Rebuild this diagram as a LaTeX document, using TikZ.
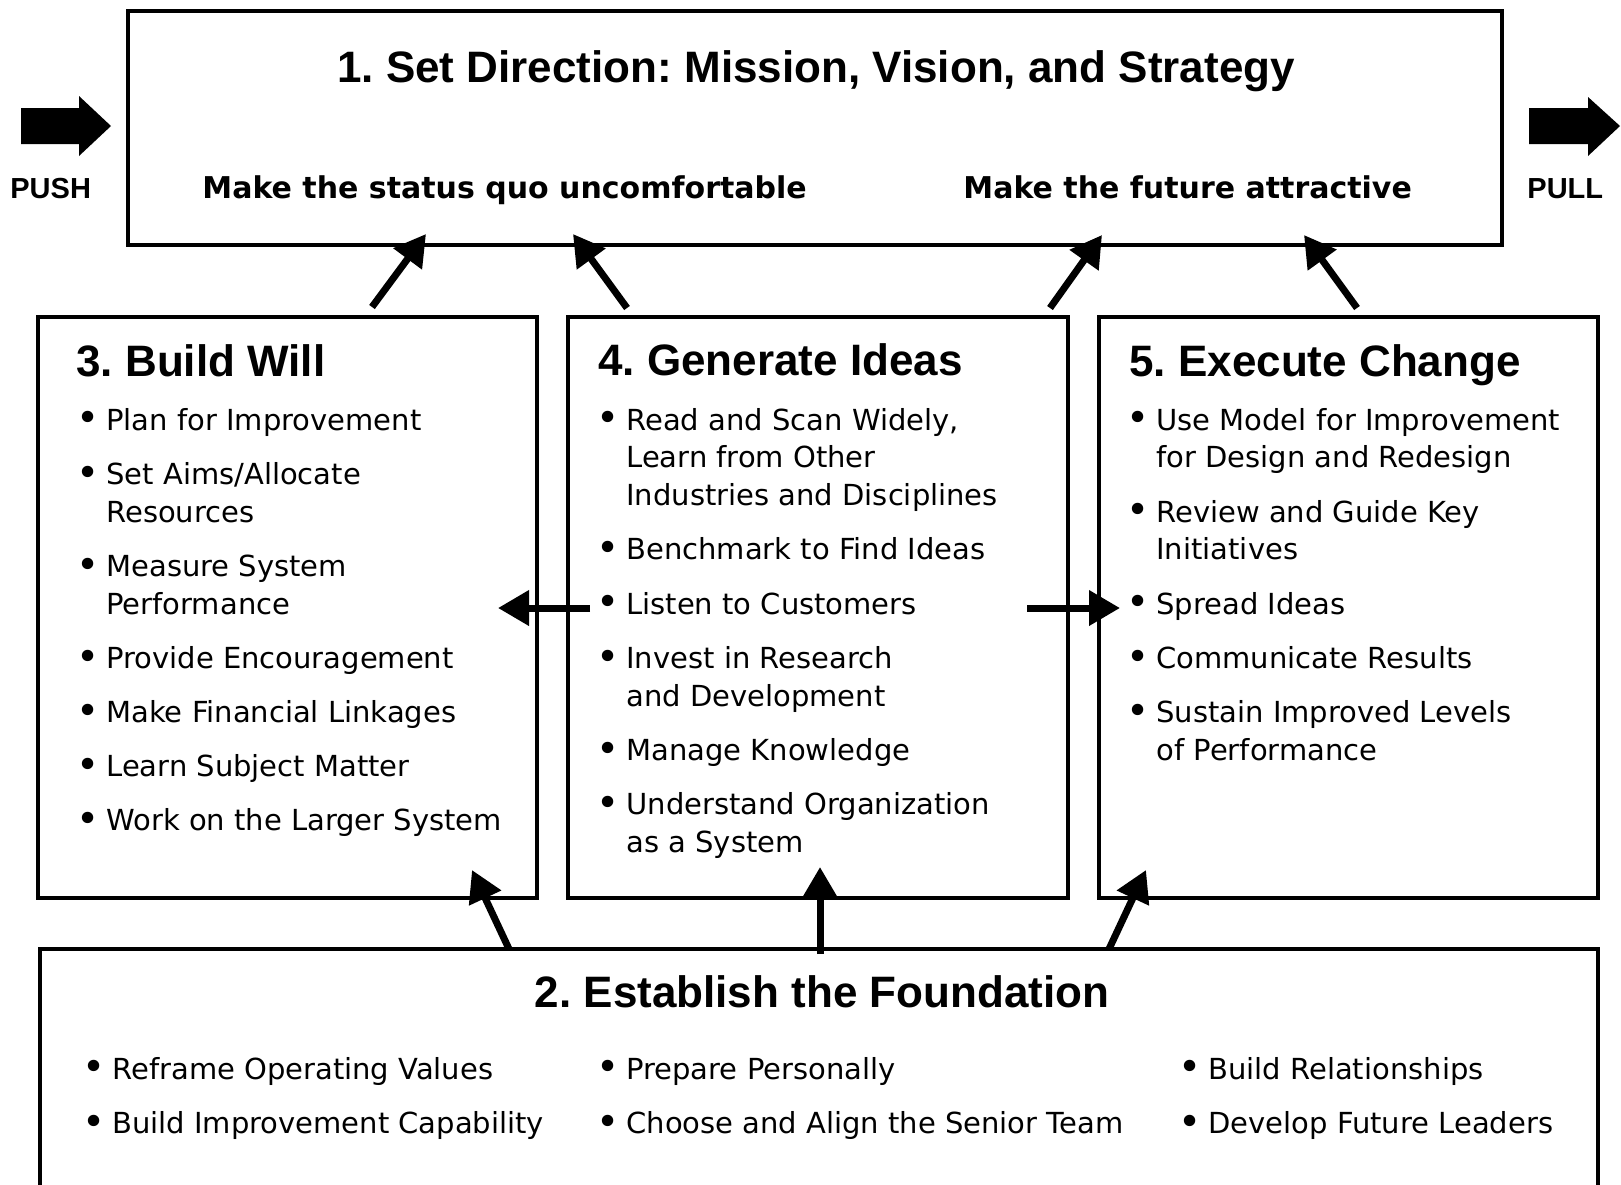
\documentclass[tikz,border=0pt]{standalone}
\usepackage{fontspec}
\setmainfont{DejaVu Sans}
\newfontfamily\headfont{Liberation Sans}
\usetikzlibrary{arrows.meta}
\frenchspacing

\newcommand{\bodysize}{\fontsize{14.5pt}{18.9pt}\selectfont}
\newcommand{\titlefont}{\headfont\bfseries\fontsize{22pt}{26pt}\selectfont}
\newcommand{\subfont}{\bfseries\fontsize{15pt}{18pt}\selectfont}
\newcommand{\sidefont}{\headfont\bfseries\fontsize{14.5pt}{17pt}\selectfont}
\newcommand{\bl}{\makebox[18pt][c]{\raisebox{-0.9pt}{\scalebox{1.35}{•}}}}
\newcommand{\gap}{\\[8.2pt]}

\tikzset{
  box/.style={draw, line width=1.75pt, inner sep=0pt, outer sep=0pt, anchor=north west},
  head/.style={inner sep=0pt, font=\titlefont},
  items/.style={inner sep=0pt, anchor=base west, font=\bodysize},
  flow/.style={line width=3.5pt, -{Triangle[length=15.5pt,width=17pt]}}
}

\begin{document}
\begin{tikzpicture}[x=0.5pt, y=-0.5pt]
\useasboundingbox (0,0) rectangle (1621,1184);
\clip (0,0) rectangle (1621,1184);

% the five boxes
\node[box, minimum width=687pt, minimum height=117pt] (dir) at (128,11) {};
\node[box, minimum width=249.5pt, minimum height=290.5pt] (will) at (38,317) {};
\node[box, minimum width=250pt, minimum height=290.5pt] (ideas) at (568,317) {};
\node[box, minimum width=249.5pt, minimum height=290.5pt] (exec) at (1099,317) {};
\node[box, minimum width=779pt, minimum height=150pt] (found) at (40,949) {};

% push and pull
\fill (21,108) -- (79,108) -- (79,96) -- (111,126) -- (79,156) -- (79,144) -- (21,144) -- cycle;
\fill (1529,108) -- (1588,108) -- (1588,97) -- (1620,126) -- (1588,156) -- (1588,144) -- (1529,144) -- cycle;
\node[inner sep=0pt, anchor=base west, font=\sidefont] (push) at (10,198) {PUSH};
\node[inner sep=0pt, anchor=base west, font=\sidefont] (pull) at (1527,198) {PULL};

% 1
\node[head, anchor=base] (dir-title) at (816,82) {1. Set Direction: Mission, Vision, and Strategy};
\node[inner sep=0pt, anchor=base west, font=\subfont] (dir-push) at (202,198) {Make the status quo uncomfortable};
\node[inner sep=0pt, anchor=base west, font=\subfont] (dir-pull) at (963,198) {Make the future attractive};

% 3
\node[head, anchor=base west] (will-title) at (76,376) {3. Build Will};
\node[items] (will-list) at (70,430) {\begin{tabular}[t]{@{}l@{}l@{}}
  \bl & Plan for Improvement \gap
  \bl & Set Aims/Allocate \\
      & Resources \gap
  \bl & Measure System \\
      & Performance \gap
  \bl & Provide Encouragement \gap
  \bl & Make Financial Linkages \gap
  \bl & Learn Subject Matter \gap
  \bl & Work on the Larger System
\end{tabular}};

% 4
\node[head, anchor=base west] (ideas-title) at (598,375) {4. Generate Ideas};
\node[items] (ideas-list) at (590,430) {\begin{tabular}[t]{@{}l@{}l@{}}
  \bl & Read and Scan Widely, \\
      & Learn from Other \\
      & Industries and Disciplines \gap
  \bl & Benchmark to Find Ideas \gap
  \bl & Listen to Customers \gap
  \bl & Invest in Research \\
      & and Development \gap
  \bl & Manage Knowledge \gap
  \bl & Understand Organization \\
      & as a System
\end{tabular}};

% 5
\node[head, anchor=base west] (exec-title) at (1129,376) {5. Execute Change};
\node[items] (exec-list) at (1120,430) {\begin{tabular}[t]{@{}l@{}l@{}}
  \bl & Use Model for Improvement \\
      & for Design and Redesign \gap
  \bl & Review and Guide Key \\
      & Initiatives \gap
  \bl & Spread Ideas \gap
  \bl & Communicate Results \gap
  \bl & Sustain Improved Levels \\
      & of Performance
\end{tabular}};

% 2
\node[head, anchor=base] (found-title) at (822,1007) {2. Establish the Foundation};
\node[items] (found-a) at (76,1079) {\begin{tabular}[t]{@{}l@{}l@{}}
  \bl & Reframe Operating Values \gap
  \bl & Build Improvement Capability
\end{tabular}};
\node[items] (found-b) at (590,1079) {\begin{tabular}[t]{@{}l@{}l@{}}
  \bl & Prepare Personally \gap
  \bl & Choose and Align the Senior Team
\end{tabular}};
\node[items] (found-c) at (1172,1079) {\begin{tabular}[t]{@{}l@{}l@{}}
  \bl & Build Relationships \gap
  \bl & Develop Future Leaders
\end{tabular}};

% arrow ends
\coordinate (will-up) at (372,307);
\coordinate (dir-a) at (426,234);
\coordinate (ideas-up1) at (627,308);
\coordinate (dir-b) at (573,234);
\coordinate (ideas-up2) at (1050,308);
\coordinate (dir-c) at (1102,235);
\coordinate (exec-up) at (1357,308);
\coordinate (dir-d) at (1304,235);
\coordinate (found-1) at (509,949);
\coordinate (will-in) at (472,870);
\coordinate (found-2) at (820,954);
\coordinate (ideas-in) at (820,867);
\coordinate (found-3) at (1109,949);
\coordinate (exec-in) at (1146,870);
\coordinate (ideas-l) at (590,608);
\coordinate (will-r) at (498,608);
\coordinate (ideas-r) at (1027,608);
\coordinate (exec-l) at (1120,608);

\draw[flow] (will-up) -- (dir-a);
\draw[flow] (ideas-up1) -- (dir-b);
\draw[flow] (ideas-up2) -- (dir-c);
\draw[flow] (exec-up) -- (dir-d);
\draw[flow] (found-1) -- (will-in);
\draw[flow] (found-2) -- (ideas-in);
\draw[flow] (found-3) -- (exec-in);
\draw[flow] (ideas-l) -- (will-r);
\draw[flow] (ideas-r) -- (exec-l);
\end{tikzpicture}
\end{document}
